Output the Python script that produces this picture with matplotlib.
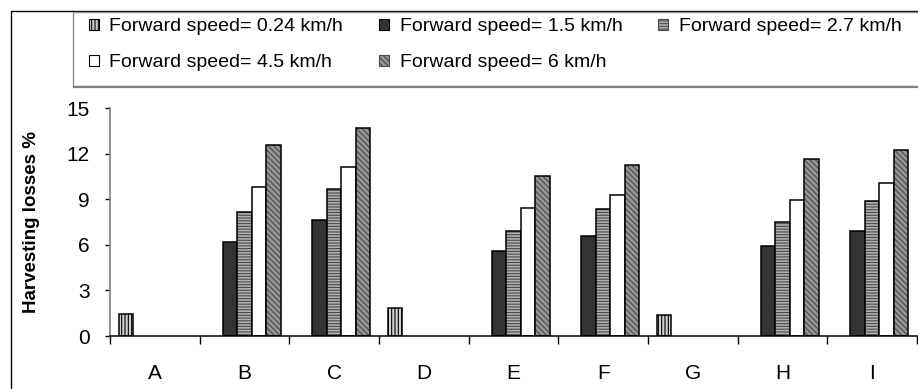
import numpy as np
import matplotlib
matplotlib.use("Agg")
import matplotlib.pyplot as plt
from matplotlib.patches import Patch, Rectangle

plt.rcParams['font.family'] = ['Liberation Sans', 'DejaVu Sans']
plt.rcParams['hatch.linewidth'] = 0.8

nan = np.nan
categories = ['A', 'B', 'C', 'D', 'E', 'F', 'G', 'H', 'I']
speed_labels = ['Forward speed= 0.24 km/h', 'Forward speed= 1.5 km/h',
                'Forward speed= 2.7 km/h', 'Forward speed= 4.5 km/h',
                'Forward speed= 6 km/h']
loss_024 = [1.47, nan, nan, 1.82, nan, nan, 1.40, nan, nan]
loss_15 = [nan, 6.18, 7.62, nan, 5.56, 6.61, nan, 5.89, 6.92]
loss_27 = [nan, 8.15, 9.70, nan, 6.94, 8.36, nan, 7.53, 8.91]
loss_45 = [nan, 9.79, 11.10, nan, 8.45, 9.26, nan, 8.96, 10.09]
loss_6 = [nan, 12.55, 13.69, nan, 10.51, 11.23, nan, 11.65, 12.24]
yticks = [0, 3, 6, 9, 12, 15]

series = [loss_024, loss_15, loss_27, loss_45, loss_6]
# (face, hatch, hatch colour) per speed
styles = [('#d0d0d0', '|||||', '#000000'),
          ('#333333', '', '#333333'),
          ('#b0b0b0', '------', '#4a4a4a'),
          ('#ffffff', '', '#ffffff'),
          ('#959595', '\\\\\\\\\\\\', '#4a4a4a')]

W, H = 918, 389
fig = plt.figure(figsize=(W / 100, H / 100), dpi=100)

def fx(px):
    return px / W

def fy(py):
    return 1 - py / H

ax = fig.add_axes([fx(110), fy(336), fx(917) - fx(110), fy(108) - fy(336)])

x = np.arange(len(categories))
w = 0.1617
for i, (vals, (face, hatch, hcol)) in enumerate(zip(series, styles)):
    pos = x + (i - 2) * w
    ax.bar(pos, vals, w, color=face, hatch=hatch, edgecolor=hcol, linewidth=0)
    ax.bar(pos, vals, w, fill=False, edgecolor='black', linewidth=1.1)

ax.set_xlim(-0.5, len(categories) - 0.5)
ax.set_ylim(0, 15)
ax.set_yticks(yticks)
ax.set_xticks(x)
ax.set_xticklabels(categories)
ax.set_xticks(np.arange(-0.5, len(categories), 1), minor=True)
ax.tick_params(axis='x', which='major', length=0, pad=20, labelsize=15)
ax.tick_params(axis='x', which='minor', length=5.5, width=1, direction='out', color='black')
ax.tick_params(axis='y', length=3.6, width=1, direction='out', color='black', pad=11, labelsize=15)
for s in ['top', 'right']:
    ax.spines[s].set_visible(False)
ax.spines['left'].set_color('#808080')
ax.spines['left'].set_linewidth(1.2)
ax.spines['bottom'].set_color('black')
ax.spines['bottom'].set_linewidth(1.1)
ax.set_ylabel('Harvesting losses %', fontsize=13.5, fontweight='bold')
ax.yaxis.set_label_coords((40 - 110) / 807, 0.5)

# outer frame and legend box
fig.add_artist(Rectangle((fx(11), fy(400)), 1.2, fy(11) - fy(400), transform=fig.transFigure,
                         fill=False, edgecolor='black', linewidth=1.0))
fig.add_artist(Rectangle((fx(73), fy(86)), 1.2, fy(12) - fy(86), transform=fig.transFigure,
                         facecolor='none', edgecolor='#909090', linewidth=1.0))
fig.add_artist(plt.Line2D([fx(74), 1.1], [fy(86.5), fy(86.5)], transform=fig.transFigure,
                          color='#808080', linewidth=1.6))

handles = [Patch(facecolor=f, hatch=h, edgecolor='black' if c in ('#ffffff', '#333333') else c,
                 linewidth=0.8) for f, h, c in styles]
# legend fills column by column; reorder so rows read 0.24, 1.5, 2.7 / 4.5, 6
order = [0, 3, 1, 4, 2]
leg = fig.legend([handles[k] for k in order], [speed_labels[k] for k in order],
                 ncol=3, loc='upper left',
                 bbox_to_anchor=(fx(89), fy(18)), frameon=False, fontsize=14,
                 handlelength=0.5, handleheight=0.5, handletextpad=0.55,
                 columnspacing=1.85, labelspacing=1.0, borderpad=0, borderaxespad=0)

fig.savefig('out.png', dpi=100)
